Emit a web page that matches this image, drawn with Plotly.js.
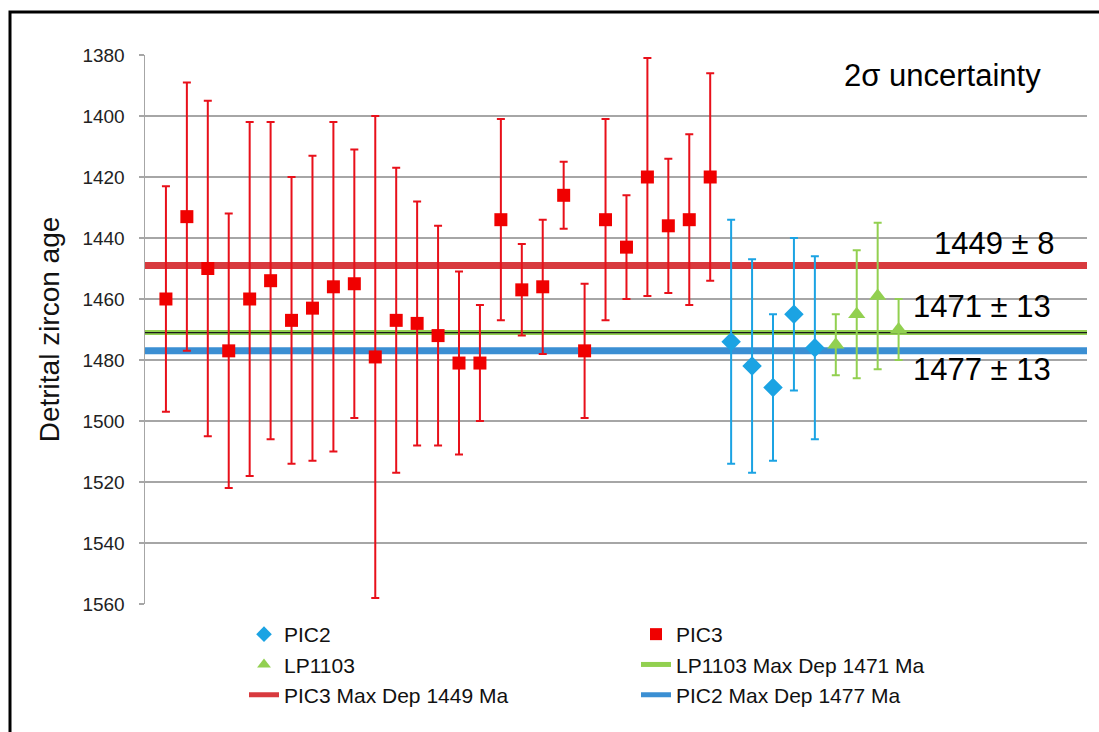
<!DOCTYPE html>
<html>
<head>
<meta charset="utf-8">
<script src="https://cdn.plot.ly/plotly-3.0.1.min.js"></script>
<style>html,body{margin:0;padding:0;background:#fff;}#chart{width:1099px;height:732px;}</style>
</head>
<body>
<div id="chart"></div>
<script>
// ---- data ----
const pic3X = [1,2,3,4,5,6,7,8,9,10,11,12,13,14,15,16,17,18,19,20,21,22,23,24,25,26,27];
const pic3Age = [1460,1433,1450,1477,1460,1454,1467,1463,1456,1455,1479,1467,1468,1472,1481,1481,1434,1457,1456,1426,1477,1434,1443,1420,1436,1434,1420];
const pic3Err = [37,44,55,45,58,52,47,50,54,44,79,50,40,36,30,19,33,15,22,11,22,33,17,39,22,28,34];

const pic2X = [28,29,30,31,32];
const pic2Age = [1474,1482,1489,1465,1476];
const pic2Err = [40,35,24,25,30];

const lpX = [33,34,35,36];
const lpAge = [1475,1465,1459,1470];
const lpErr = [10,21,24,10];

const xExtent = [0, 45];
const maxDepPIC3 = 1449;
const maxDepLP = 1471;
const maxDepPIC2 = 1477;

const yTicks = [1380,1400,1420,1440,1460,1480,1500,1520,1540,1560];

// ---- layout helpers (pixel -> paper) ----
const W = 1099, H = 732, ML = 145, MR = 12, MT = 55, MB = 128;
const PW = W - ML - MR, PH = H - MT - MB;
const px = v => (v - ML) / PW;
const py = v => (H - MB - v) / PH;

const FONT = 'Liberation Sans, Arial, sans-serif';

const traces = [
  {x: xExtent, y: [maxDepPIC3, maxDepPIC3], mode: 'lines', name: 'PIC3 Max Dep 1449 Ma',
   line: {color: '#d83a3e', width: 7}, legend: 'legend', hoverinfo: 'skip'},
  {x: xExtent, y: [maxDepLP, maxDepLP], mode: 'lines', name: 'LP1103 Max Dep 1471 Ma',
   line: {color: '#92d050', width: 5}, legend: 'legend2', hoverinfo: 'skip'},
  {x: xExtent, y: [maxDepLP, maxDepLP], mode: 'lines', showlegend: false,
   line: {color: '#1a1a1a', width: 1.2}, hoverinfo: 'skip'},
  {x: xExtent, y: [maxDepPIC2, maxDepPIC2], mode: 'lines', name: 'PIC2 Max Dep 1477 Ma',
   line: {color: '#3b8fd3', width: 7}, legend: 'legend2', hoverinfo: 'skip'},
  {x: pic2X, y: pic2Age, mode: 'markers', name: 'PIC2', legend: 'legend',
   marker: {symbol: 'diamond', size: 15, color: '#1ba3e3'},
   error_y: {type: 'data', array: pic2Err, visible: true, color: '#1ba3e3', thickness: 2, width: 4}},
  {x: pic3X, y: pic3Age, mode: 'markers', name: 'PIC3', legend: 'legend2',
   marker: {symbol: 'square', size: 13, color: '#f00000'},
   error_y: {type: 'data', array: pic3Err, visible: true, color: '#e8101a', thickness: 2, width: 4}},
  {x: lpX, y: lpAge, mode: 'markers', name: 'LP1103', legend: 'legend',
   marker: {symbol: 'triangle-up', size: 15, color: '#92d050'},
   error_y: {type: 'data', array: lpErr, visible: true, color: '#92d050', thickness: 2, width: 4}}
];

// legend columns: col1 PIC2, LP1103, PIC3 line ; col2 PIC3, LP1103 line, PIC2 line
const legendOrder = {'PIC2': 1, 'LP1103': 2, 'PIC3 Max Dep 1449 Ma': 3, 'PIC3': 1, 'LP1103 Max Dep 1471 Ma': 2, 'PIC2 Max Dep 1477 Ma': 3};
traces.forEach(t => { if (t.name) t.legendrank = legendOrder[t.name]; });

const legendCommon = {
  orientation: 'v', xanchor: 'left', yanchor: 'top', bgcolor: 'rgba(0,0,0,0)',
  itemsizing: 'constant',
  font: {family: FONT, size: 21, color: '#111'}, tracegroupgap: 0
};

const layout = {
  width: W, height: H,
  margin: {l: ML, r: MR, t: MT, b: MB},
  paper_bgcolor: '#ffffff', plot_bgcolor: '#ffffff',
  font: {family: FONT},
  showlegend: true,
  legend: Object.assign({}, legendCommon, {x: px(244), y: py(614)}),
  legend2: Object.assign({}, legendCommon, {x: px(636), y: py(614)}),
  xaxis: {range: xExtent, showgrid: false, zeroline: false, showline: false,
          showticklabels: false, ticks: '', fixedrange: true},
  yaxis: {range: [1560, 1380], autorange: false, tickmode: 'array', tickvals: yTicks,
          ticktext: yTicks.map(String),
          showgrid: true, gridcolor: '#a6a6a6', gridwidth: 1.5,
          zeroline: false, showline: true, linecolor: '#a6a6a6', linewidth: 1.5,
          ticks: 'outside', ticklen: 5, tickcolor: '#a6a6a6', tickwidth: 1.5,
          ticklabelstandoff: 10,
          tickfont: {family: FONT, size: 19, color: '#222'},
          title: {text: 'Detrital zircon age', standoff: 14,
                  font: {family: FONT, size: 28, color: '#111'}}},
  shapes: [
    {type: 'rect', xref: 'paper', yref: 'paper', x0: px(10), x1: px(1130), y0: py(12), y1: py(760),
     line: {color: '#000', width: 3}, fillcolor: 'rgba(0,0,0,0)', layer: 'above'}
  ],
  annotations: [
    {text: '2σ uncertainty', xref: 'paper', yref: 'paper', x: px(942), y: py(75),
     xanchor: 'center', yanchor: 'middle', showarrow: false, font: {family: FONT, size: 31, color: '#000'}},
    {text: '1449 ± 8', xref: 'paper', yref: 'paper', x: px(994), y: py(243),
     xanchor: 'center', yanchor: 'middle', showarrow: false, font: {family: FONT, size: 31, color: '#000'}},
    {text: '1471 ± 13', xref: 'paper', yref: 'paper', x: px(982), y: py(306),
     xanchor: 'center', yanchor: 'middle', showarrow: false, font: {family: FONT, size: 31, color: '#000'}},
    {text: '1477 ± 13', xref: 'paper', yref: 'paper', x: px(982), y: py(369),
     xanchor: 'center', yanchor: 'middle', showarrow: false, font: {family: FONT, size: 31, color: '#000'}}
  ]
};

Plotly.newPlot('chart', traces, layout, {displayModeBar: false, staticPlot: true});
</script>
</body>
</html>
